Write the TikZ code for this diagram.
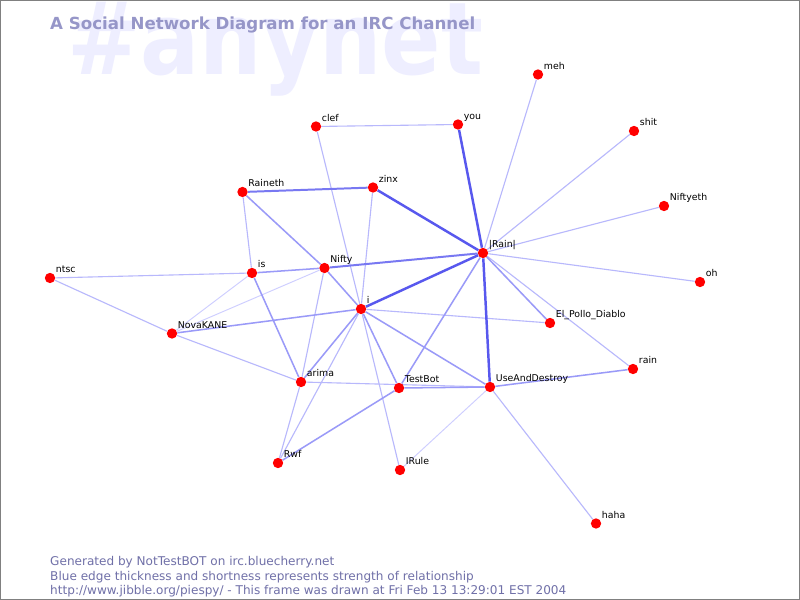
\documentclass[tikz,border=0pt]{standalone}
\usepackage{fontspec}
\setmainfont{DejaVu Sans}
\usepackage{tikz}
\pgfdeclarelayer{back}
\pgfdeclarelayer{edges}
\pgfsetlayers{back,edges,main}
\definecolor{IRCRed}{HTML}{FF0000}
\definecolor{IRCFrame}{HTML}{808080}
\definecolor{IRCTitle}{HTML}{9696C8}
\definecolor{IRCGhost}{HTML}{EEEEFF}
\definecolor{IRCFoot}{HTML}{7070A8}
\definecolor{IRCEdgeA}{HTML}{5858EE}
\definecolor{IRCEdgeB}{HTML}{7878F2}
\definecolor{IRCEdgeC}{HTML}{9A9AF8}
\definecolor{IRCEdgeD}{HTML}{B8B8FC}
\definecolor{IRCEdgeE}{HTML}{CECEFF}

\begin{document}
\begin{tikzpicture}[x=0.03cm,y=-0.03cm,
  dot/.style={circle,fill=IRCRed,inner sep=0pt,minimum size=0.31cm},
  lbl/.style={anchor=base west,inner sep=0pt,xshift=1.6pt,yshift=1.4pt,
    font=\fontsize{8}{9}\selectfont},
  strongest/.style={draw=IRCEdgeA,line width=2.1pt},
  strong/.style={draw=IRCEdgeB,line width=1.7pt},
  mid/.style={draw=IRCEdgeC,line width=1.3pt},
  weak/.style={draw=IRCEdgeD,line width=0.95pt},
  faint/.style={draw=IRCEdgeE,line width=0.8pt}]
  \useasboundingbox (0,0) rectangle (800,600);
  % background tag and title
  \begin{pgfonlayer}{back}
    \fill[white] (0,0) rectangle (800,600);
    \node[anchor=base west,inner sep=0pt,xscale=0.87,text=IRCGhost,font=\fontsize{86}{92}\selectfont\bfseries] (bgtag) at (67,75) {\#anynet};
  \end{pgfonlayer}
  \node[anchor=base west,inner sep=0pt,text=IRCTitle,font=\fontsize{14.2}{16}\selectfont\bfseries] (title) at (50,29.5) {A Social Network Diagram for an IRC Channel};
  % nicks
  \node[dot,label={[lbl]45:clef}] (clef) at (316,126.5) {};
  \node[dot,label={[lbl]45:you}] (you) at (458,124.5) {};
  \node[dot,label={[lbl]45:meh}] (meh) at (538,74.5) {};
  \node[dot,label={[lbl]45:shit}] (shit) at (634,131) {};
  \node[dot,label={[lbl]45:Niftyeth}] (niftyeth) at (664,206) {};
  \node[dot,label={[lbl]45:Raineth}] (raineth) at (242.5,192) {};
  \node[dot,label={[lbl]45:zinx}] (zinx) at (373,187.5) {};
  \node[dot,label={[lbl]45:|Rain|}] (rainbar) at (483,253) {};
  \node[dot,label={[lbl]45:oh}] (oh) at (700,282) {};
  \node[dot,label={[lbl]45:ntsc}] (ntsc) at (50,278) {};
  \node[dot,label={[lbl]45:is}] (is) at (252,273) {};
  \node[dot,label={[lbl]45:Nifty}] (nifty) at (324.5,268) {};
  \node[dot,label={[lbl]45:i}] (i) at (361,309) {};
  \node[dot,label={[lbl]45:NovaKANE}] (novakane) at (172,333.5) {};
  \node[dot,label={[lbl]45:El\_Pollo\_Diablo}] (elpollo) at (550,323) {};
  \node[dot,label={[lbl]45:rain}] (rain) at (633,369) {};
  \node[dot,label={[lbl]45:arima}] (arima) at (301,382) {};
  \node[dot,label={[lbl]45:TestBot}] (testbot) at (399,388) {};
  \node[dot,label={[lbl]45:UseAndDestroy}] (useanddestroy) at (490,387) {};
  \node[dot,label={[lbl]45:Rwf}] (rwf) at (278,463) {};
  \node[dot,label={[lbl]45:IRule}] (irule) at (400,470) {};
  \node[dot,label={[lbl]45:haha}] (haha) at (596,523.5) {};
  % relationships
  \begin{pgfonlayer}{edges}
  \draw[weak] (clef) -- (you);
  \draw[weak] (clef) -- (i);
  \draw[weak] (meh) -- (rainbar);
  \draw[weak] (shit) -- (rainbar);
  \draw[weak] (niftyeth) -- (rainbar);
  \draw[weak] (oh) -- (rainbar);
  \draw[weak] (raineth) -- (is);
  \draw[weak] (zinx) -- (i);
  \draw[weak] (ntsc) -- (is);
  \draw[weak] (ntsc) -- (novakane);
  \draw[weak] (novakane) -- (arima);
  \draw[weak] (nifty) -- (arima);
  \draw[weak] (arima) -- (rwf);
  \draw[weak] (i) -- (rwf);
  \draw[weak] (i) -- (irule);
  \draw[weak] (i) -- (elpollo);
  \draw[weak] (arima) -- (useanddestroy);
  \draw[weak] (rainbar) -- (rain);
  \draw[weak] (useanddestroy) -- (haha);
  \draw[faint] (novakane) -- (is);
  \draw[faint] (novakane) -- (nifty);
  \draw[faint] (useanddestroy) -- (irule);
  \draw[mid] (is) -- (nifty);
  \draw[mid] (raineth) -- (nifty);
  \draw[mid] (nifty) -- (i);
  \draw[mid] (novakane) -- (i);
  \draw[mid] (is) -- (arima);
  \draw[mid] (arima) -- (i);
  \draw[mid] (i) -- (testbot);
  \draw[mid] (i) -- (useanddestroy);
  \draw[mid] (testbot) -- (useanddestroy);
  \draw[mid] (testbot) -- (rwf);
  \draw[mid] (rainbar) -- (testbot);
  \draw[mid] (rainbar) -- (elpollo);
  \draw[mid] (useanddestroy) -- (rain);
  \draw[strong] (raineth) -- (zinx);
  \draw[strong] (nifty) -- (rainbar);
  \draw[strongest] (you) -- (rainbar);
  \draw[strongest] (zinx) -- (rainbar);
  \draw[strongest] (i) -- (rainbar);
  \draw[strongest] (rainbar) -- (useanddestroy);
  \end{pgfonlayer}
  % footer
  \node[anchor=base west,inner sep=0pt,align=left,text=IRCFoot,font=\fontsize{10.3}{12.8}\selectfont] (footer) at (50,595)
    {Generated by NotTestBOT on irc.bluecherry.net\\
     Blue edge thickness and shortness represents strength of relationship\\
     http://www.jibble.org/piespy/ - This frame was drawn at Fri Feb 13 13:29:01 EST 2004};
  \draw[IRCFrame,line width=0.85pt] (0.5,0.5) rectangle (799.5,599.5);
\end{tikzpicture}
\end{document}
